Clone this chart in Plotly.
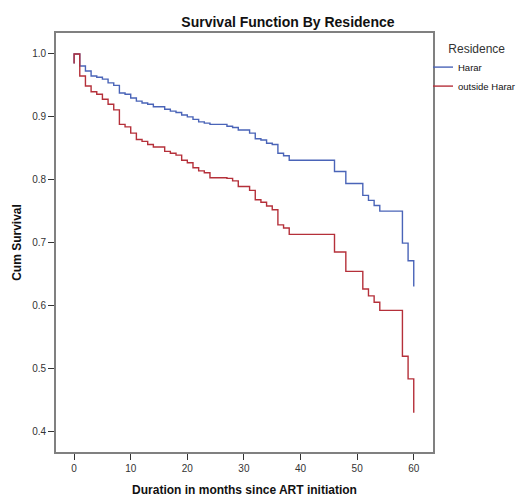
import plotly.graph_objects as go

# Kaplan-Meier step data (months, cumulative survival)
harar_time = [0, 0, 1, 2, 3, 4, 5, 6, 7, 8, 9, 10, 11, 12, 13, 14, 16, 17, 18, 19, 20,
              21, 22, 23, 24, 27, 28, 29, 31, 32, 33, 34, 35, 36, 37, 38, 46, 48,
              51, 52, 53, 54, 58, 59, 60]
harar_surv = [0.985, 1.0, 0.981, 0.973, 0.965, 0.963, 0.960, 0.954, 0.950, 0.938, 0.936,
              0.930, 0.925, 0.922, 0.920, 0.916, 0.912, 0.909, 0.907, 0.903, 0.900,
              0.896, 0.892, 0.890, 0.888, 0.885, 0.883, 0.879, 0.874, 0.865, 0.863,
              0.858, 0.856, 0.842, 0.838, 0.831, 0.813, 0.794, 0.775, 0.767, 0.759,
              0.750, 0.699, 0.671, 0.630]

outside_time = [0, 0, 1, 2, 3, 4, 5, 6, 7, 8, 9, 10, 11, 12, 13, 14, 16, 17, 18, 19, 20,
                21, 22, 23, 24, 27, 28, 29, 31, 32, 33, 34, 35, 36, 37, 38, 46, 48,
                51, 52, 53, 54, 58, 59, 60]
outside_surv = [0.985, 1.0, 0.965, 0.949, 0.940, 0.936, 0.928, 0.920, 0.911, 0.888, 0.884,
                0.874, 0.864, 0.861, 0.856, 0.852, 0.845, 0.842, 0.839, 0.831, 0.827,
                0.819, 0.814, 0.811, 0.803, 0.802, 0.798, 0.789, 0.783, 0.768, 0.764,
                0.758, 0.752, 0.728, 0.723, 0.713, 0.685, 0.654, 0.626, 0.615, 0.605,
                0.592, 0.519, 0.483, 0.429]

x_ticks = [0, 10, 20, 30, 40, 50, 60]
y_ticks = [0.4, 0.5, 0.6, 0.7, 0.8, 0.9, 1.0]

FONT = "Arial, Liberation Sans, sans-serif"

fig = go.Figure()
fig.add_trace(go.Scatter(x=harar_time, y=harar_surv, mode="lines", name="Harar",
                         line=dict(shape="hv", color="#4a64b8", width=1.4)))
fig.add_trace(go.Scatter(x=outside_time, y=outside_surv, mode="lines", name="outside Harar",
                         line=dict(shape="hv", color="#b5303a", width=1.4)))

fig.update_layout(
    width=516, height=497,
    margin=dict(l=56, r=83, t=33, b=45, autoexpand=False),
    paper_bgcolor="white", plot_bgcolor="white",
    font=dict(family=FONT, color="#222"),
    title=dict(text="<b>Survival Function By Residence</b>", x=0.558, xanchor="center",
               y=1 - 22 / 497, yanchor="middle", font=dict(size=14, color="#111")),
    legend=dict(xref="container", yref="container", x=433 / 516, xanchor="left",
                y=1 - 37 / 497, yanchor="top",
                title=dict(text="&nbsp;&nbsp;&nbsp;&nbsp;Residence", font=dict(size=12, color="#333")),
                font=dict(size=9.5, color="#111"), itemwidth=30, indentation=-15,
                tracegroupgap=0, bgcolor="rgba(0,0,0,0)"),
    xaxis=dict(range=[-3.2, 63.4], tickvals=x_ticks, ticks="outside", ticklen=6,
               tickcolor="#333", showgrid=False, zeroline=False, showline=True,
               linecolor="#808080", linewidth=1.6, mirror=True,
               tickfont=dict(size=10, color="#333"),
               title=dict(text="<b>Duration in months since ART initiation</b>",
                          font=dict(size=12, color="#111"), standoff=13)),
    yaxis=dict(range=[0.3666, 1.0334], tickvals=y_ticks, tickformat=".1f", ticks="outside",
               ticklen=6, tickcolor="#333", showgrid=False, zeroline=False, showline=True,
               linecolor="#808080", linewidth=1.6, mirror=True,
               tickfont=dict(size=10, color="#333"),
               title=dict(text="<b>Cum Survival</b>", font=dict(size=12, color="#111"),
                          standoff=8)),
)

fig.write_html("out.html")
